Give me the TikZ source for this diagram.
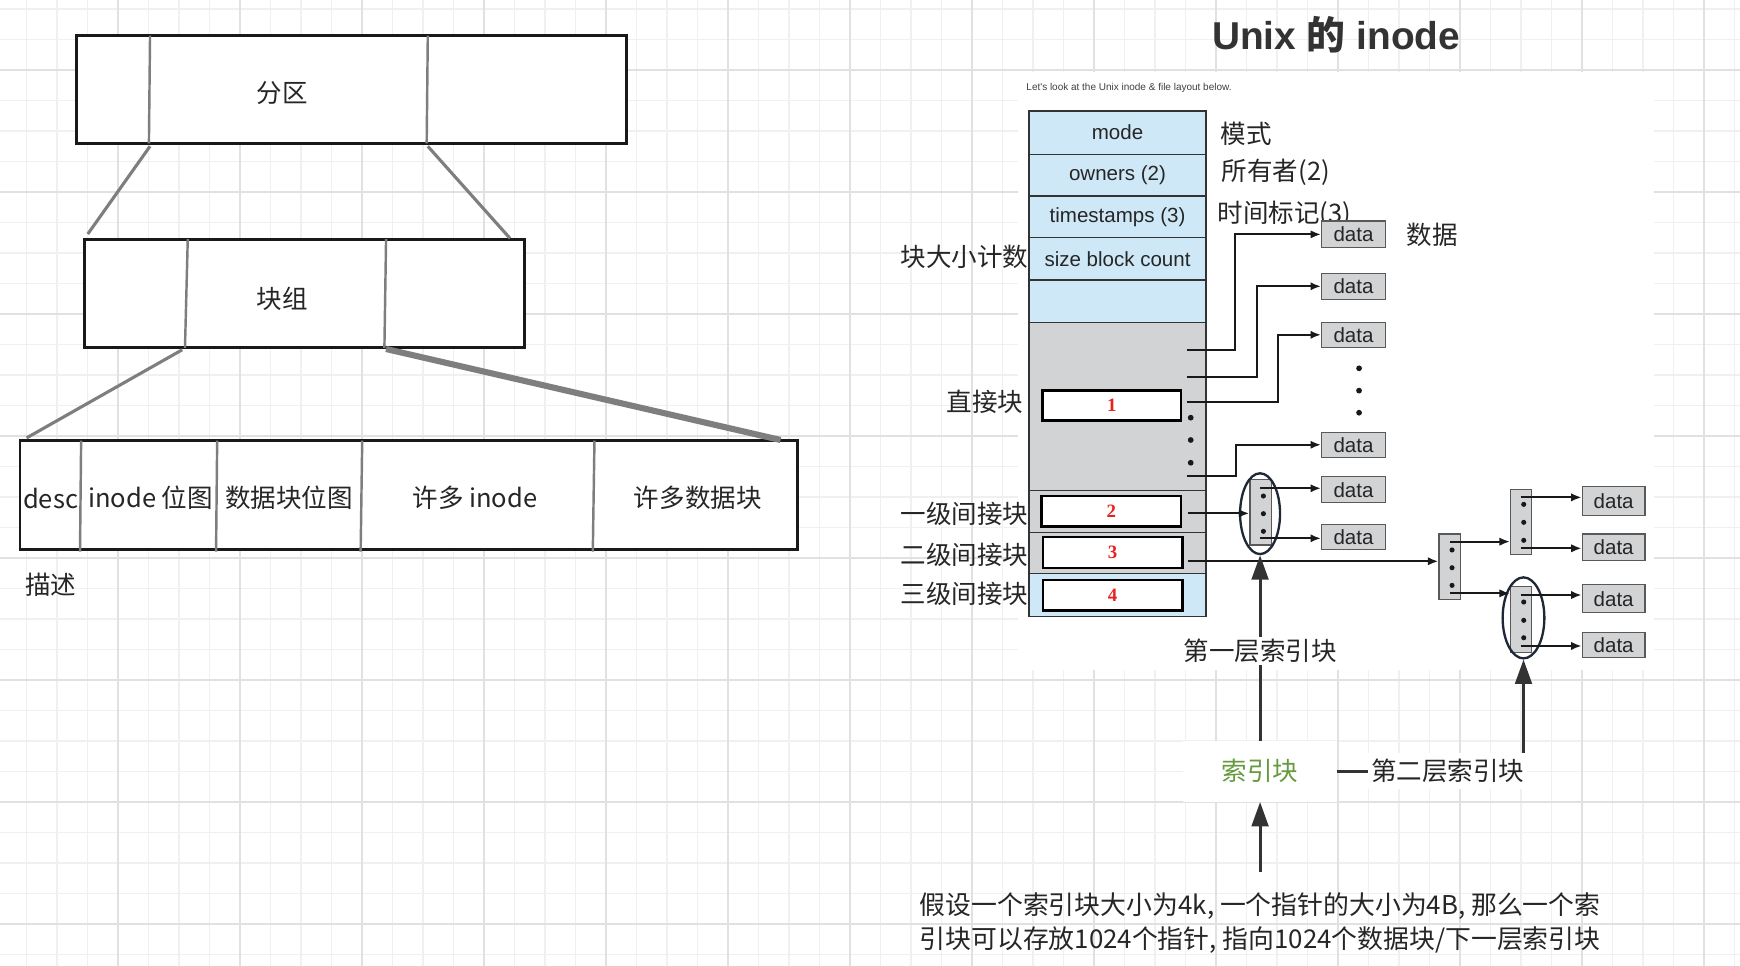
\documentclass[tikz,border=0pt]{standalone}
\usepackage{fontspec}
\setmainfont{Noto Sans CJK SC}
\newfontfamily\lsans{Liberation Sans}
\newfontfamily\lserif{Liberation Serif}
\newfontfamily\cjk{Noto Sans CJK SC}
\usetikzlibrary{arrows.meta,shapes.geometric,calc}
\definecolor{gridminor}{HTML}{F0F0F0}
\definecolor{gridmajor}{HTML}{E1E1E1}
\definecolor{lblue}{HTML}{CFE8F7}
\definecolor{cgray}{HTML}{D2D3D5}
\definecolor{divgray}{HTML}{7E7E7E}
\definecolor{navy}{HTML}{1F2837}
\definecolor{idxgreen}{HTML}{659A3E}
\definecolor{ink}{HTML}{333333}
\definecolor{numred}{HTML}{E8231E}
\begin{document}
\begin{tikzpicture}[x=1pt,y=-1pt,
  gminor/.style={draw=gridminor,line width=1.3},
  gmajor/.style={draw=gridmajor,line width=1.8},
  lbox/.style={draw=black!90,line width=2.5,fill=white,inner sep=0},
  div/.style={draw=divgray,line width=2.2},
  conn/.style={draw=divgray,line width=2.8},
  thickconn/.style={draw=divgray,line width=5.5},
  lbl/.style={font=\fontsize{23}{28}\selectfont,text=black!85,inner sep=0},
  cell/.style={draw=black!80,line width=1.2,minimum width=159.5,inner sep=0,font=\lsans\fontsize{18.5}{20}\selectfont,text=black!85},
  numbox/.style={draw=black,line width=2.2,fill=white,inner sep=0,font=\lserif\bfseries\fontsize{17}{17}\selectfont,text=numred},
  datab/.style={draw=black!65,fill=cgray,line width=1.1,inner sep=0,font=\lsans\fontsize{18.5}{20}\selectfont,text=black!85},
  iblock/.style={draw=black!65,fill=cgray,line width=1.1,inner sep=0},
  ptr/.style={draw=black!90,line width=1.9,-{Latex[length=9.5pt,width=7.5pt]}},
  ring/.style={ellipse,draw=navy,line width=2.1,inner sep=0},
  bigarrow/.style={draw=ink,line width=2.7,-{Triangle[length=22pt,width=15pt]}},
  dotc/.style={fill=black!90},
]
\useasboundingbox (0,0) rectangle (1568,870.5);
% background grid
\fill[white] (0,0) rectangle (1568,870.5);
\foreach \k in {0,...,57} {\draw[gminor] ({-3.6+27.485*\k},0) -- ({-3.6+27.485*\k},870.5);}
\foreach \k in {0,...,31} {\draw[gminor] (0,{8.13+27.485*\k}) -- (1568,{8.13+27.485*\k});}
\foreach \k in {0,...,14} {\draw[gmajor] ({-3.6+109.94*\k},0) -- ({-3.6+109.94*\k},870.5);}
\foreach \k in {0,...,7} {\draw[gmajor] (0,{63.1+109.94*\k}) -- (1568,{63.1+109.94*\k});}
% pasted screenshot area
\fill[white] (917,65) rectangle (1490.5,603.5);

% ---------------- left diagram ----------------
\node[lbox,minimum width=496.1,minimum height=97.2] (part) at (316.65,80.7) {};
\draw[div] (135.2,32.1) -- (134.2,129.3);
\draw[div] (385.5,32.1) -- (384.5,129.3);
\node[lbl] (partT) at (254.3,83.7) {分区};

\node[lbox,minimum width=396.5,minimum height=97.9] (grp) at (274.35,264.45) {};
\draw[div] (169.2,215.5) -- (166.7,313.4);
\draw[div] (347.9,215.5) -- (346.4,313.4);
\node[lbl] (grpT) at (254.3,268.9) {块组};

\node[lbox,minimum width=700.9,minimum height=98] (fs) at (368.45,446.1) {};
\draw[div] (73.1,397.1) -- (72.1,497);
\draw[div] (195.7,397.1) -- (194.7,497);
\draw[div] (326.4,397.1) -- (325,497);
\draw[div] (535.7,397.1) -- (534.2,497);
\node[lbl] (fsA) at (45.6,448.8) {desc};
\node[lbl] (fsB) at (135.7,448.8) {inode 位图};
\node[lbl] (fsC) at (260.3,448.8) {数据块位图};
\node[lbl] (fsD) at (428,448.8) {许多 inode};
\node[lbl] (fsE) at (628.8,448.8) {许多数据块};
\node[lbl] (descT) at (45.8,527.2) {描述};

\coordinate (c1a) at (135.2,131.8); \coordinate (c1b) at (79.1,210.9);
\coordinate (c2a) at (385.5,131.8); \coordinate (c2b) at (459.6,214.8);
\coordinate (c3a) at (164.2,315.2); \coordinate (c3b) at (24,394.6);
\coordinate (c4a) at (347.9,314.5); \coordinate (c4b) at (703.4,396.5);
\draw[conn] (c1a) -- (c1b);
\draw[conn] (c2a) -- (c2b);
\draw[conn] (c3a) -- (c3b);
\draw[thickconn] (c4a) -- (c4b);

% ---------------- right diagram ----------------
\node[anchor=base,text=ink,inner sep=0] (title) at (1204,45)
  {\fontsize{35}{40}\lsans\bfseries Unix {\cjk 的} inode};
\node[inner sep=0,text=black!75,font=\lsans\fontsize{9}{10}\selectfont] (intro) at (1017.4,79.6)
  {Let's look at the Unix inode \& file layout below.};

% inode table
\node[cell,fill=lblue,minimum height=39] (r1) at (1007.05,119.5) {mode};
\node[cell,fill=lblue,minimum height=37.6] (r2) at (1007.05,157.8) {owners (2)};
\node[cell,fill=lblue,minimum height=37.6] (r3) at (1007.05,195.4) {timestamps (3)};
\node[cell,fill=lblue,minimum height=38.1] (r4) at (1007.05,233.25) {size block count};
\node[cell,fill=lblue,minimum height=38.2] (r5) at (1007.05,271.4) {};
\node[cell,fill=cgray,minimum height=151.7] (rd) at (1007.05,366.35) {};
\node[cell,fill=cgray,minimum height=37.8] (ri1) at (1007.05,461.1) {};
\node[cell,fill=cgray,minimum height=36.7] (ri2) at (1007.05,498.35) {};
\node[cell,fill=lblue,minimum height=39] (ri3) at (1007.05,536.2) {};

\node[numbox,minimum width=124.7,minimum height=26.8] (b1) at (1001.95,365.4) {1};
\node[numbox,minimum width=125.6,minimum height=27.6] (b2) at (1001.5,460.8) {2};
\node[numbox,minimum width=125.6,minimum height=27.7] (b3) at (1002.7,498) {3};
\node[numbox,minimum width=125.6,minimum height=27.6] (b4) at (1002.7,536.5) {4};

\foreach \yy in {376.4,396.5,417} {\fill[dotc] (1073,\yy) circle (2.6);}

% labels around table
\node[lbl,anchor=west] (lm) at (1100,121) {模式};
\node[lbl,anchor=west] (lo) at (1100.9,155.3) {所有者(2)};
\node[lbl,anchor=west] (lt) at (1097,192.9) {时间标记(3)};
\node[lbl,anchor=east] (ls) at (926.7,231.3) {块大小计数};
\node[lbl,anchor=east] (ld) at (922.2,362) {直接块};
\node[lbl,anchor=east] (l1) at (926.7,462.6) {一级间接块};
\node[lbl,anchor=east] (l2) at (926.7,500.1) {二级间接块};
\node[lbl,anchor=east] (l3) at (926.7,534.7) {三级间接块};
\node[lbl] (ldata) at (1290.5,212) {数据};

% data blocks
\node[datab,minimum width=57.4,minimum height=24] (d1) at (1219.7,211.2) {data};
\node[datab,minimum width=57.4,minimum height=23.4] (d2) at (1219.7,258) {data};
\node[datab,minimum width=57.4,minimum height=22.5] (d3) at (1219.7,301.7) {data};
\node[datab,minimum width=57.4,minimum height=22.5] (d4) at (1219.7,400.8) {data};
\node[datab,minimum width=57.4,minimum height=23.5] (d5) at (1219.7,441.3) {data};
\node[datab,minimum width=57.4,minimum height=23] (d6) at (1219.7,484) {data};
\foreach \yy in {331.9,352,371.9} {\fill[dotc] (1224.7,\yy) circle (2.6);}

\node[datab,minimum width=56.5,minimum height=26] (e1) at (1454.15,451.2) {data};
\node[datab,minimum width=56.5,minimum height=23.5] (e2) at (1454.15,493) {data};
\node[datab,minimum width=56.5,minimum height=25.5] (e3) at (1454.15,539.5) {data};
\node[datab,minimum width=56.5,minimum height=23] (e4) at (1454.15,581.3) {data};

% index blocks
\node[iblock,minimum width=19.6,minimum height=59.1] (ib1) at (1136.2,461.55) {};
\node[iblock,minimum width=19.2,minimum height=58.9] (dib) at (1306.4,510.65) {};
\node[iblock,minimum width=19,minimum height=58.5] (ib2a) at (1370.8,470.25) {};
\node[iblock,minimum width=19,minimum height=59.5] (ib2b) at (1370.8,558.45) {};
\foreach \yy in {447,462.9,478.8} {\fill[dotc] (1138.5,\yy) circle (2.3);}
\foreach \yy in {495.6,511.6,527.5} {\fill[dotc] (1308.5,\yy) circle (2.3);}
\foreach \yy in {454.5,470.7,486.9} {\fill[dotc] (1373.1,\yy) circle (2.3);}
\foreach \yy in {542.5,559,574.7} {\fill[dotc] (1373.1,\yy) circle (2.3);}

\node[ring,minimum width=36,minimum height=72.8] (ell1) at (1135.5,462.9) {};
\node[ring,minimum width=37.6,minimum height=73] (ell2) at (1372.9,556.8) {};

% pointers
\coordinate (q1) at (1069.4,315.4);
\coordinate (q2) at (1069.4,339.4);
\coordinate (q3) at (1069.4,362.6);
\coordinate (q4) at (1069.4,428.7);
\draw[ptr] (q1) -- ++(43.5,0) |- (d1.west);
\draw[ptr] (q2) -- ++(63.1,0) |- (d2.west);
\draw[ptr] (q3) -- ++(82,0) |- (d3.west);
\draw[ptr] (q4) -- ++(44.4,0) |- (d4.west);

\coordinate (s2) at (1070.9,462.6);
\coordinate (s3) at (1070.9,505.8);
\draw[ptr] (s2) -- (s2 -| ib1.west);
\draw[ptr] (s3) -- (s3 -| dib.west);

\coordinate (o11) at (1135.5,440);   \draw[ptr] (o11) -- (o11 -| d5.west);
\coordinate (o12) at (1135.5,485.1); \draw[ptr] (o12) -- (o12 -| d6.west);
\coordinate (o21) at (1306.7,488.1); \draw[ptr] (o21) -- (o21 -| ib2a.west);
\coordinate (o22) at (1306.7,534.7); \draw[ptr] (o22) -- (o22 -| ib2b.west);
\coordinate (o31) at (1370.4,448.2); \draw[ptr] (o31) -- (o31 -| e1.west);
\coordinate (o32) at (1370.4,494.1); \draw[ptr] (o32) -- (o32 -| e2.west);
\coordinate (o41) at (1370.4,536.2); \draw[ptr] (o41) -- (o41 -| e3.west);
\coordinate (o42) at (1370.4,582.1); \draw[ptr] (o42) -- (o42 -| e4.west);

% index-block annotations
\node[lbl,fill=white,minimum width=139,minimum height=55,text=idxgreen] (idx) at (1135.5,695) {索引块};
\node[lbl,anchor=north,inner ysep=18,align=left,font=\fontsize{23.3}{31}\selectfont] (note) at (1135.5,786)
  {假设一个索引块大小为4k, 一个指针的大小为4B, 那么一个索\\引块可以存放1024个指针, 指向1024个数据块/下一层索引块};
\draw[bigarrow] (idx.north) -- node[lbl,pos=0.485,fill=white,inner ysep=2] {第一层索引块} (ell1.south);
\draw[bigarrow] (idx.east) -| node[lbl,pos=0.296,fill=white,minimum width=143,minimum height=32] {第二层索引块} (ell2.south);
\draw[bigarrow] (note.north) -- (idx.south);
\end{tikzpicture}
\end{document}
